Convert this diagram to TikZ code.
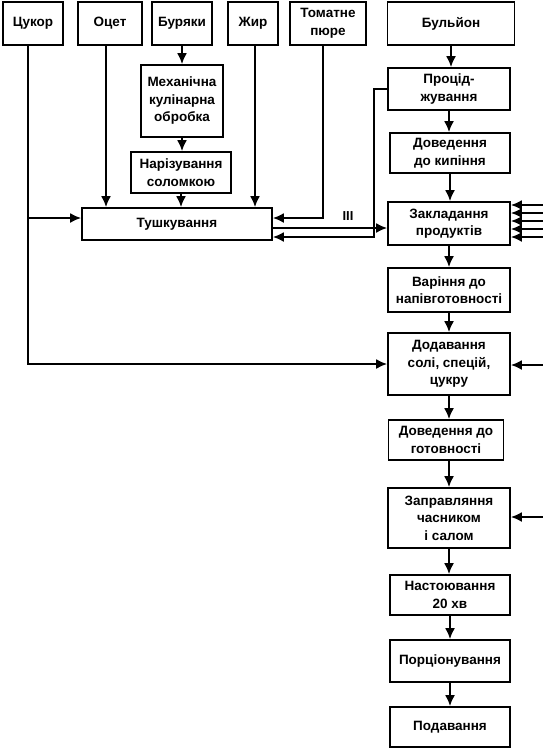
\documentclass[tikz,border=0pt]{standalone}
\usepackage{fontspec}
\setmainfont{Liberation Sans}
\usetikzlibrary{arrows.meta}
\begin{document}
\begin{tikzpicture}[x=1pt,y=-1pt]
      \tikzset{box/.style={draw,line width=1.8pt,align=center,inner sep=1pt,font=\fontsize{13.5}{17.5}\selectfont\bfseries}}
      \tikzset{arr/.style={line width=1.8pt,-{Latex[length=11pt,width=10pt]}}}
      \useasboundingbox (0,0) rectangle (543,750);
      \node[box,minimum width=60,minimum height=43] (cukor) at (33,23.5) {Цукор};
      \node[box,minimum width=64,minimum height=43] (ocet) at (110,23.5) {Оцет};
      \node[box,minimum width=60,minimum height=43] (buriaky) at (182,23.5) {Буряки};
      \node[box,minimum width=50,minimum height=43] (zhyr) at (253,23.5) {Жир};
      \node[box,minimum width=76,minimum height=43] (tomat) at (328,23.5) {Томатне\\пюре};
      \node[box,minimum width=127,minimum height=43] (bulion) at (451,23.5) {Бульйон};
      \node[box,minimum width=82,minimum height=72] (mekh) at (182,101) {Механічна\\кулінарна\\обробка};
      \node[box,minimum width=100,minimum height=41] (nariz) at (181,172.5) {Нарізування\\соломкою};
      \node[box,minimum width=190,minimum height=32] (tush) at (177,224) {Тушкування};
      \node[box,minimum width=122,minimum height=42] (proc) at (449,89) {Процід-\\жування};
      \node[box,minimum width=120,minimum height=40] (kyp) at (450,153) {Доведення\\до кипіння};
      \node[box,minimum width=122,minimum height=43] (zakl) at (449,223.5) {Закладання\\продуктів};
      \node[box,minimum width=122,minimum height=44] (var) at (449,290) {Варіння до\\напівготовності};
      \node[box,minimum width=122,minimum height=62] (dod) at (449,364) {Додавання\\солі, спецій,\\цукру};
      \node[box,minimum width=115,minimum height=40] (got) at (446,440) {Доведення до\\готовності};
      \node[box,minimum width=122,minimum height=60] (zapr) at (449,518) {Заправляння\\часником\\і салом};
      \node[box,minimum width=120,minimum height=40] (nast) at (450,595) {Настоювання\\20 хв};
      \node[box,minimum width=120,minimum height=42] (porc) at (450,661) {Порціонування};
      \node[box,minimum width=120,minimum height=40] (podav) at (450,727) {Подавання};
      \node[font=\fontsize{13}{13}\selectfont\bfseries] (mark) at (348,216) {III};
      \coordinate (in1) at (543,205);
      \coordinate (in2) at (543,213);
      \coordinate (in3) at (543,221);
      \coordinate (in4) at (543,229);
      \coordinate (in5) at (543,237);
      \coordinate (indod) at (543,365);
      \coordinate (inzapr) at (543,517);
      \draw[arr] ([xshift=-5pt]cukor.south) |- (dod.west);
      \draw[arr] ([xshift=-5pt]cukor.south) |- ([yshift=6pt]tush.west);
      \draw[arr] ([xshift=-4pt]ocet.south) -- ([xshift=-4pt]ocet.south |- tush.north);
      \draw[arr] (buriaky.south) -- (buriaky.south |- mekh.north);
      \draw[arr] (mekh.south) -- (mekh.south |- nariz.north);
      \draw[arr] (nariz.south) -- (nariz.south |- tush.north);
      \draw[arr] ([xshift=2pt]zhyr.south) -- ([xshift=2pt]zhyr.south |- tush.north);
      \draw[arr] ([xshift=-5pt]tomat.south) |- ([yshift=6pt]tush.east);
      \draw[arr] ([yshift=-4pt]tush.east) -- ([yshift=-4pt]tush.east -| zakl.west);
      \draw[arr] (proc.west) -- ++(-13,0) |- ([yshift=-13pt]tush.east);
      \draw[arr] (bulion.south) -- (bulion.south |- proc.north);
      \draw[arr] (proc.south) -- (proc.south |- kyp.north);
      \draw[arr] (kyp.south) -- (kyp.south |- zakl.north);
      \draw[arr] (zakl.south) -- (zakl.south |- var.north);
      \draw[arr] (var.south) -- (var.south |- dod.north);
      \draw[arr] (dod.south) -- (dod.south |- got.north);
      \draw[arr] (dod.south |- got.south) -- (dod.south |- zapr.north);
      \draw[arr] (zapr.south) -- (zapr.south |- nast.north);
      \draw[arr] (nast.south) -- (nast.south |- porc.north);
      \draw[arr] (porc.south) -- (porc.south |- podav.north);
      \draw[arr] (in1) -- (in1 -| zakl.east);
      \draw[arr] (in2) -- (in2 -| zakl.east);
      \draw[arr] (in3) -- (in3 -| zakl.east);
      \draw[arr] (in4) -- (in4 -| zakl.east);
      \draw[arr] (in5) -- (in5 -| zakl.east);
      \draw[arr] (indod) -- (indod -| dod.east);
      \draw[arr] (inzapr) -- (inzapr -| zapr.east);
    \end{tikzpicture}
\end{document}
